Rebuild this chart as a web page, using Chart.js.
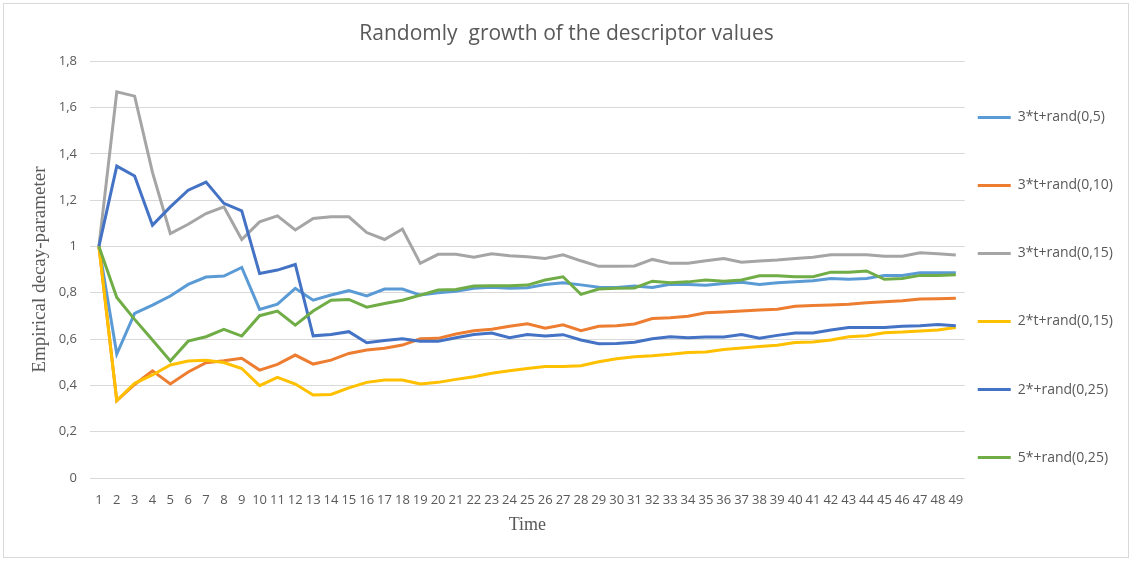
<!DOCTYPE html>
<html>
<head>
<meta charset="utf-8">
<script src="https://cdn.jsdelivr.net/npm/chart.js@4.4.0/dist/chart.umd.min.js"></script>
<style>
  body { margin: 0; background: #fff; }
  #wrap { position: relative; width: 1132px; height: 562px; }
  #marco { position: absolute; left: 3px; top: 3px; width: 1124px; height: 553px; border: 1px solid #d9d9d9; pointer-events: none; }
</style>
</head>
<body>
<div id="wrap">
  <canvas id="grafica" width="1132" height="562"></canvas>
  <div id="marco"></div>
</div>
<script>
// datos
var tiempo = [];
for (var t = 1; t <= 49; t++) tiempo.push(String(t));

var series = ["3*t+rand(0,5)", "3*t+rand(0,10)", "3*t+rand(0,15)", "2*t+rand(0,15)", "2*+rand(0,25)", "5*+rand(0,25)"];
var colores = ["#5B9BD5", "#ED7D31", "#A5A5A5", "#FFC000", "#4472C4", "#70AD47"];

var s_t3_5 = [1.0, 0.535, 0.711, 0.747, 0.786, 0.836, 0.868, 0.872, 0.909, 0.728,
  0.751, 0.819, 0.768, 0.790, 0.809, 0.786, 0.816, 0.816, 0.790, 0.800,
  0.806, 0.819, 0.824, 0.820, 0.822, 0.836, 0.843, 0.834, 0.824, 0.823,
  0.829, 0.823, 0.837, 0.836, 0.832, 0.840, 0.845, 0.836, 0.843, 0.847,
  0.852, 0.862, 0.858, 0.862, 0.875, 0.875, 0.886, 0.886, 0.886];
var s_t3_10 = [1.0, 0.334, 0.404, 0.463, 0.406, 0.458, 0.498, 0.506, 0.517, 0.466,
  0.491, 0.531, 0.492, 0.509, 0.538, 0.553, 0.560, 0.574, 0.601, 0.603,
  0.622, 0.636, 0.642, 0.655, 0.666, 0.647, 0.662, 0.636, 0.655, 0.658,
  0.665, 0.689, 0.692, 0.699, 0.714, 0.717, 0.721, 0.725, 0.729, 0.742,
  0.745, 0.747, 0.750, 0.757, 0.761, 0.765, 0.773, 0.774, 0.776];
var s_t3_15 = [1.0, 1.668, 1.649, 1.320, 1.056, 1.096, 1.142, 1.171, 1.030, 1.106,
  1.132, 1.071, 1.121, 1.128, 1.128, 1.060, 1.030, 1.075, 0.927, 0.966,
  0.966, 0.953, 0.968, 0.960, 0.955, 0.948, 0.964, 0.938, 0.914, 0.914,
  0.916, 0.944, 0.927, 0.927, 0.938, 0.948, 0.932, 0.937, 0.941, 0.948,
  0.953, 0.964, 0.964, 0.964, 0.958, 0.958, 0.973, 0.968, 0.963];
var s_t2_15 = [1.0, 0.334, 0.409, 0.445, 0.488, 0.505, 0.509, 0.499, 0.473, 0.399,
  0.435, 0.406, 0.358, 0.361, 0.389, 0.413, 0.423, 0.423, 0.406, 0.413,
  0.426, 0.437, 0.452, 0.463, 0.473, 0.481, 0.481, 0.485, 0.502, 0.515,
  0.524, 0.528, 0.534, 0.542, 0.544, 0.555, 0.561, 0.568, 0.573, 0.585,
  0.587, 0.596, 0.610, 0.614, 0.627, 0.630, 0.635, 0.639, 0.650];
var s_2_25 = [1.0, 1.347, 1.304, 1.092, 1.171, 1.243, 1.278, 1.186, 1.154, 0.883,
  0.898, 0.922, 0.614, 0.620, 0.632, 0.584, 0.594, 0.601, 0.591, 0.591,
  0.606, 0.620, 0.626, 0.606, 0.620, 0.613, 0.619, 0.596, 0.580, 0.581,
  0.586, 0.601, 0.610, 0.606, 0.609, 0.609, 0.620, 0.604, 0.616, 0.626,
  0.626, 0.639, 0.650, 0.650, 0.650, 0.655, 0.658, 0.663, 0.658];
var s_5_25 = [1.0, 0.780, 0.685, 0.596, 0.505, 0.591, 0.610, 0.642, 0.613, 0.701,
  0.721, 0.660, 0.721, 0.768, 0.771, 0.738, 0.754, 0.768, 0.790, 0.812,
  0.814, 0.829, 0.830, 0.830, 0.833, 0.855, 0.869, 0.793, 0.816, 0.819,
  0.821, 0.850, 0.843, 0.847, 0.855, 0.850, 0.855, 0.873, 0.873, 0.869,
  0.869, 0.889, 0.889, 0.894, 0.858, 0.862, 0.875, 0.875, 0.878];

var valores = [s_t3_5, s_t3_10, s_t3_15, s_t2_15, s_2_25, s_5_25];

var fuente = "'Open Sans', 'Noto Sans', sans-serif";
var serif = "'Liberation Serif', 'DejaVu Serif', serif";
var gris = "#595959";

var conjuntos = [];
for (var i = 0; i < series.length; i++) {
  conjuntos.push({
    label: series[i],
    data: valores[i],
    borderColor: colores[i],
    backgroundColor: colores[i],
    borderWidth: 3,
    pointRadius: 0,
    tension: 0,
    fill: false,
    order: series.length - i
  });
}

var ctx = document.getElementById("grafica").getContext("2d");
var myChart = new Chart(ctx, {
  type: "line",
  data: {
    labels: tiempo,
    datasets: conjuntos
  },
  options: {
    responsive: false,
    animation: false,
    layout: { padding: { left: 10, right: 9, top: 0, bottom: 14 } },
    plugins: {
      tooltip: { enabled: false },
      title: {
        display: true,
        text: "Randomly  growth of the descriptor values",
        color: gris,
        font: { family: fuente, size: 21, weight: "normal" },
        padding: { top: 21, bottom: 15 }
      },
      legend: {
        position: "right",
        align: "center",
        labels: {
          color: gris,
          font: { family: fuente, size: 14, lineHeight: 3.93 },
          boxWidth: 33,
          boxHeight: 3,
          padding: 13,
          generateLabels: function (chart) {
            var items = Chart.defaults.plugins.legend.labels.generateLabels(chart);
            items.sort(function (a, b) { return a.datasetIndex - b.datasetIndex; });
            items.forEach(function (it) {
              it.lineWidth = 0;
              it.text = [it.text];
            });
            // hueco vacio arriba para bajar la leyenda
            items.unshift({
              text: [""],
              fillStyle: "rgba(0,0,0,0)",
              strokeStyle: "rgba(0,0,0,0)",
              lineWidth: 0,
              hidden: false,
              datasetIndex: -1
            });
            return items;
          }
        }
      }
    },
    scales: {
      x: {
        offset: true,
        grid: { display: false, drawTicks: false },
        border: { display: false },
        ticks: {
          color: gris,
          font: { family: fuente, size: 13 },
          autoSkip: false,
          maxRotation: 0,
          minRotation: 0,
          padding: 14
        },
        title: {
          display: true,
          text: "Time",
          color: gris,
          font: { family: serif, size: 18 },
          padding: { top: 4, bottom: 12 }
        },
        afterFit: function (scale) { scale.height = 70; }
      },
      y: {
        min: 0,
        max: 1.8,
        grid: { color: "#d9d9d9", drawTicks: false },
        border: { display: false },
        ticks: {
          stepSize: 0.2,
          color: gris,
          font: { family: fuente, size: 13 },
          padding: 13,
          callback: function (v) {
            return String(Number(v.toFixed(1))).replace(".", ",");
          }
        },
        title: {
          display: true,
          text: "Empirical decay-parameter",
          color: gris,
          font: { family: serif, size: 19 },
          padding: { top: 19, bottom: 4 }
        },
        afterFit: function (scale) { scale.width = 80; }
      }
    }
  }
});
</script>
</body>
</html>
